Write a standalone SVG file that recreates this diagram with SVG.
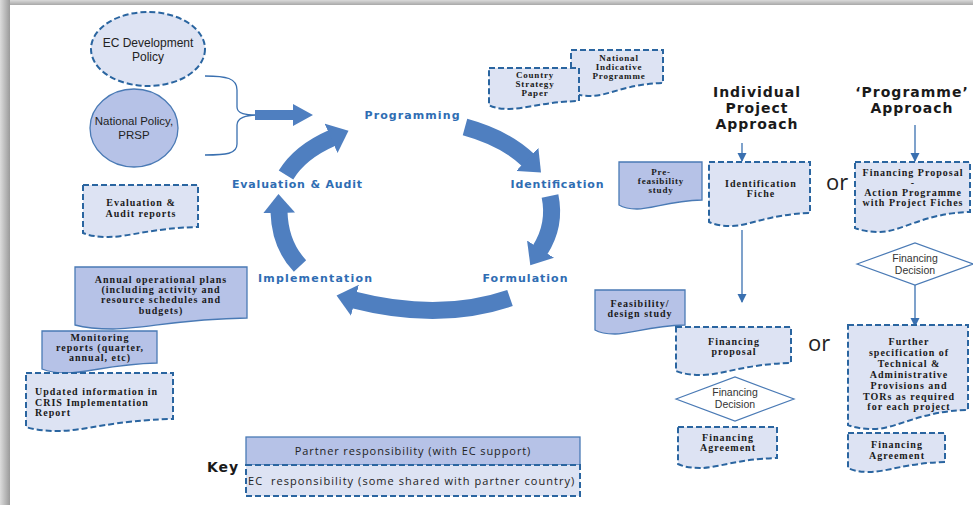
<svg xmlns="http://www.w3.org/2000/svg" width="973" height="505" viewBox="0 0 973 505">
<defs>
<style>
.ec{fill:#dde3f3;stroke:#2a65a0;stroke-width:2;stroke-dasharray:6 3}
.pt{fill:#b6c2e7;stroke:#4a7ab5;stroke-width:1.3}
.dt{font-family:"Liberation Serif","DejaVu Serif",serif;font-weight:bold;font-size:10px;fill:#1a1a1a;letter-spacing:1px;text-anchor:middle}
.sm{font-size:9px;letter-spacing:0.8px}
.cy{font-family:"DejaVu Sans",sans-serif;font-weight:bold;font-size:11px;fill:#2f6db3;text-anchor:middle}
.ap{font-family:"DejaVu Sans",sans-serif;font-weight:bold;font-size:14px;fill:#1a1a1a;letter-spacing:1px;text-anchor:middle}
.sn{font-family:"Open Sans","DejaVu Sans",sans-serif;font-size:11px;fill:#222;text-anchor:middle}
.ls{font-family:"Liberation Sans",Arial,sans-serif;font-size:12px;fill:#222;text-anchor:middle}
.np{font-size:11.5px}
.dd{font-size:10.5px;fill:#333}
.or{font-family:"Open Sans","DejaVu Sans",sans-serif;font-size:22px;fill:#222}
.ln{fill:none;stroke:#3a70b0;stroke-width:1.3}
.ca{fill:none;stroke:#4f7fc0;stroke-width:17}
.dm{fill:#fff;stroke:#4a7ab5;stroke-width:1.2}
</style>
<linearGradient id="gTop" x1="0" y1="0" x2="0" y2="1"><stop offset="0" stop-color="#dadada"/><stop offset="1" stop-color="#a8a8a8"/></linearGradient>
<linearGradient id="gLeft" x1="0" y1="0" x2="1" y2="0"><stop offset="0" stop-color="#dcdcdc"/><stop offset="1" stop-color="#9a9a9a"/></linearGradient>
<marker id="cyc" markerUnits="userSpaceOnUse" markerWidth="20" markerHeight="32" refX="1" refY="16" orient="auto"><path d="M0,0 L19,16 L0,32 z" fill="#4f7fc0"/></marker>
<marker id="tri" markerUnits="userSpaceOnUse" markerWidth="10" markerHeight="10" refX="8" refY="5" orient="auto"><path d="M0,0.5 L9,5 L0,9.5 z" fill="#3a70b0"/></marker>
</defs>
<rect width="973" height="505" fill="#fff"/>
<rect x="0" y="0" width="973" height="5" fill="url(#gTop)"/>
<rect x="0" y="0" width="10" height="505" fill="url(#gLeft)"/>

<g id="connectors">
<path class="ln" stroke="#2e6da4" d="M205,76 C226,76 237,78 237,90 L237,107 C237,114 246,115 257,115 C246,115 237,118 237,125 L237,144 C237,154 226,155 205,155"/>
<polygon points="255,110 293,110 293,104 313,115 293,126 293,120 255,120" fill="#4f7fc0"/>
<path class="ca" d="M465,127 Q505,138 528,160" marker-end="url(#cyc)"/>
<path class="ca" d="M550,196 Q556,225 540,250" marker-end="url(#cyc)"/>
<path class="ca" d="M510,298 Q440,322 354,300" marker-end="url(#cyc)"/>
<path class="ca" d="M300,266 Q280,245 279,212" marker-end="url(#cyc)"/>
<path class="ca" d="M286,175 Q300,152 332,138" marker-end="url(#cyc)"/>
<path class="ln" d="M742,143 V161" marker-end="url(#tri)"/>
<path class="ln" d="M742,230 V302" marker-end="url(#tri)"/>
<path class="ln" d="M915,125 V161" marker-end="url(#tri)"/>
<path class="ln" d="M915,285 V326" marker-end="url(#tri)"/>
</g>

<g id="ec-policy">
<ellipse class="ec" cx="148" cy="49" rx="57" ry="37"/>
<text class="ls" x="148" y="47">EC Development</text>
<text class="ls" x="148" y="61">Policy</text>
</g>
<g id="national-policy">
<ellipse class="pt" cx="134" cy="128" rx="44" ry="39"/>
<text class="ls np" x="134" y="125">National Policy,</text>
<text class="ls np" x="134" y="139">PRSP</text>
</g>

<g id="programming"><text class="cy" x="412" y="119" textLength="95" lengthAdjust="spacing">Programming</text></g>
<g id="identification"><text class="cy" x="557" y="188" textLength="93" lengthAdjust="spacing">Identification</text></g>
<g id="formulation"><text class="cy" x="525" y="282" textLength="85" lengthAdjust="spacing">Formulation</text></g>
<g id="implementation"><text class="cy" x="315" y="282" textLength="114" lengthAdjust="spacing">Implementation</text></g>
<g id="evaluation"><text class="cy" x="297" y="188" textLength="130" lengthAdjust="spacing">Evaluation &amp; Audit</text></g>

<g id="eval-reports">
<path class="ec" d="M83,185 H198 V227 C152,228 129,237 108,237 C97,237 89,235.5 83,233 Z"/>
<text class="dt" x="141" y="206">Evaluation &amp;</text>
<text class="dt" x="141" y="217">Audit reports</text>
</g>
<g id="annual-plans">
<path class="pt" d="M75,267 H247 V318 C178,319 144,329 113,329 C96,329 84,327.5 75,325 Z"/>
<text class="dt" x="161" y="283">Annual operational plans</text>
<text class="dt" x="161" y="293">(including activity and</text>
<text class="dt" x="161" y="303">resource schedules and</text>
<text class="dt" x="161" y="314">budgets)</text>
</g>
<g id="monitoring">
<path class="pt" d="M42,331 H157 V363 C111,364 88,373 67,373 C56,373 48,371.5 42,369 Z"/>
<text class="dt" x="100" y="341">Monitoring</text>
<text class="dt" x="100" y="351">reports (quarter,</text>
<text class="dt" x="100" y="361">annual, etc)</text>
</g>
<g id="cris">
<path class="ec" d="M26,373 H173 V419 C114,420 85,431 58,431 C44,431 33,429.5 26,427 Z"/>
<text class="dt" style="text-anchor:start" x="35" y="395">Updated information in</text>
<text class="dt" style="text-anchor:start" x="35" y="406">CRIS Implementation</text>
<text class="dt" style="text-anchor:start" x="35" y="416">Report</text>
</g>
<g id="nip">
<path class="ec" d="M571,50 H663 V83 C626,84 608,96 591,96 C582,96 576,94.5 571,92 Z"/>
<text class="dt sm" x="619" y="61">National</text>
<text class="dt sm" x="619" y="70">Indicative</text>
<text class="dt sm" x="619" y="79">Programme</text>
</g>
<g id="csp">
<path class="ec" d="M489,68 H579 V101 C543,102 525,109 509,109 C500,109 493,107.5 489,105 Z"/>
<text class="dt sm" x="535" y="78">Country</text>
<text class="dt sm" x="535" y="87">Strategy</text>
<text class="dt sm" x="535" y="96">Paper</text>
</g>

<g id="individual-approach">
<text class="ap" x="757" y="97">Individual</text>
<text class="ap" x="757" y="113">Project</text>
<text class="ap" x="757" y="129">Approach</text>
</g>
<g id="programme-approach">
<text class="ap" x="912" y="97">‘Programme’</text>
<text class="ap" x="912" y="113">Approach</text>
</g>

<g id="pre-feasibility">
<path class="pt" d="M619,162 H702 V200 C669,201 652,209 637,209 C629,209 623,207.5 619,205 Z"/>
<text class="dt sm" x="661" y="175">Pre-</text>
<text class="dt sm" x="661" y="184">feasibility</text>
<text class="dt sm" x="661" y="193">study</text>
</g>
<g id="identification-fiche">
<path class="ec" d="M709,162 H810 V213 C770,214 749,226 731,226 C721,226 714,224.5 709,222 Z"/>
<text class="dt" x="761" y="187">Identification</text>
<text class="dt" x="761" y="197">Fiche</text>
</g>
<g id="or-1"><text class="or" x="826" y="190">or</text></g>
<g id="financing-proposal-ap">
<path class="ec" d="M855,162 H970 V212 C924,213 901,232 880,232 C869,232 861,230.5 855,228 Z"/>
<text class="dt" x="913" y="176">Financing Proposal</text>
<text class="dt" x="913" y="186">-</text>
<text class="dt" x="913" y="196">Action Programme</text>
<text class="dt" x="913" y="206">with Project Fiches</text>
</g>
<g id="decision-right">
<polygon class="dm" points="857,264 915,243 973,264 915,285"/>
<text class="ls dd" x="915" y="262">Financing</text>
<text class="ls dd" x="915" y="274">Decision</text>
</g>
<g id="feasibility">
<path class="pt" d="M595,290 H685 V325 C649,326 631,334 615,334 C606,334 599,332.5 595,330 Z"/>
<text class="dt" x="640" y="307">Feasibility/</text>
<text class="dt" x="640" y="317">design study</text>
</g>
<g id="financing-proposal">
<path class="ec" d="M676,327 H791 V363 C745,364 722,375 701,375 C690,375 682,373.5 676,371 Z"/>
<text class="dt" x="734" y="345">Financing</text>
<text class="dt" x="734" y="355">proposal</text>
</g>
<g id="or-2"><text class="or" x="808" y="351">or</text></g>
<g id="decision-left">
<polygon class="dm" points="676,399 735,377 794,399 735,421"/>
<text class="ls dd" x="735" y="396">Financing</text>
<text class="ls dd" x="735" y="408">Decision</text>
</g>
<g id="agreement-left">
<path class="ec" d="M678,427 H777 V458 C737,459 718,468 700,468 C690,468 683,466.5 678,464 Z"/>
<text class="dt" x="728" y="441">Financing</text>
<text class="dt" x="728" y="451">Agreement</text>
</g>
<g id="further-spec">
<path class="ec" d="M848,325 H968 V410 C920,411 896,429 874,429 C862,429 854,427.5 848,425 Z"/>
<text class="dt" x="909" y="345">Further</text>
<text class="dt" x="909" y="356">specification of</text>
<text class="dt" x="909" y="367">Technical &amp;</text>
<text class="dt" x="909" y="378">Administrative</text>
<text class="dt" x="909" y="389">Provisions and</text>
<text class="dt" x="909" y="400">TORs as required</text>
<text class="dt" x="909" y="410">for each project</text>
</g>
<g id="agreement-right">
<path class="ec" d="M848,433 H945 V462 C906,463 887,472 869,472 C860,472 853,470.5 848,468 Z"/>
<text class="dt" x="897" y="448">Financing</text>
<text class="dt" x="897" y="459">Agreement</text>
</g>

<g id="key">
<text class="ap" style="text-anchor:start" x="207" y="472">Key</text>
<rect class="pt" x="246" y="437" width="334" height="28"/>
<text class="sn" x="413" y="455" letter-spacing="0.9">Partner responsibility (with EC support)</text>
<rect class="ec" x="246" y="465" width="334" height="31"/>
<text class="sn" style="text-anchor:start;white-space:pre" xml:space="preserve" x="248" y="485" letter-spacing="1.05">EC  responsibility (some shared with partner country)</text>
</g>
</svg>
